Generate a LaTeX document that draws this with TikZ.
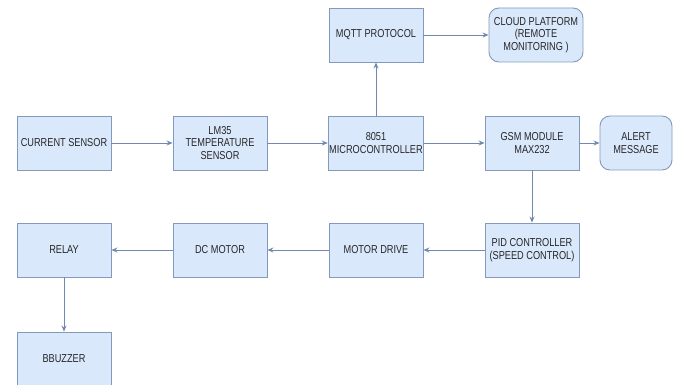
\documentclass[tikz,border=0pt]{standalone}
\usepackage{fontspec}
\setmainfont{Liberation Sans}[FakeStretch=0.8]
\usetikzlibrary{arrows.meta}
\definecolor{boxfill}{HTML}{DAE8FC}
\definecolor{boxline}{HTML}{8499BC}
\definecolor{arrowcol}{HTML}{7189B0}
\definecolor{txt}{HTML}{262626}
\tikzset{
  blk/.style={rectangle, draw=boxline, fill=boxfill, line width=0.9pt,
    minimum width=94pt, minimum height=54pt, inner sep=1pt, align=center,
    text=txt, font=\fontsize{11.5}{12.5}\selectfont},
  rblk/.style={blk, rounded corners=10pt},
  conn/.style={draw=arrowcol, line width=0.9pt, -{Stealth[length=6pt,width=5pt]}}
}
\begin{document}
\begin{tikzpicture}[x=1pt,y=-1pt]
\useasboundingbox (0,0) rectangle (673,385);
\clip (0,0) rectangle (673,385);
\fill[white] (0,0) rectangle (673,385);
\node[blk] (cur) at (64,143) {CURRENT SENSOR};
\node[blk] (lm) at (220,143) {LM35\\TEMPERATURE\\SENSOR};
\node[blk] (mcu) at (376,143) {8051\\MICROCONTROLLER};
\node[blk] (gsm) at (532,143) {GSM MODULE\\MAX232};
\node[rblk, minimum width=72pt] (alert) at (636,143) {ALERT\\MESSAGE};
\node[blk] (mqtt) at (376,35) {MQTT PROTOCOL};
\node[rblk] (cloud) at (536,35) {CLOUD PLATFORM\\(REMOTE\\MONITORING )};
\node[blk] (pid) at (532,250) {PID CONTROLLER\\(SPEED CONTROL)};
\node[blk] (drv) at (376,250) {MOTOR DRIVE};
\node[blk] (dc) at (220,250) {DC MOTOR};
\node[blk] (relay) at (64,250) {RELAY};
\node[blk] (buz) at (64,359) {BBUZZER};
\draw[conn] (cur) -- (lm);
\draw[conn] (lm) -- (mcu);
\draw[conn] (mcu) -- (gsm);
\draw[conn] (gsm) -- (alert);
\draw[conn] (mcu) -- (mqtt);
\draw[conn] (mqtt) -- (cloud);
\draw[conn] (gsm) -- (pid);
\draw[conn] (pid) -- (drv);
\draw[conn] (drv) -- (dc);
\draw[conn] (dc) -- (relay);
\draw[conn] (relay) -- (buz);
\end{tikzpicture}
\end{document}
